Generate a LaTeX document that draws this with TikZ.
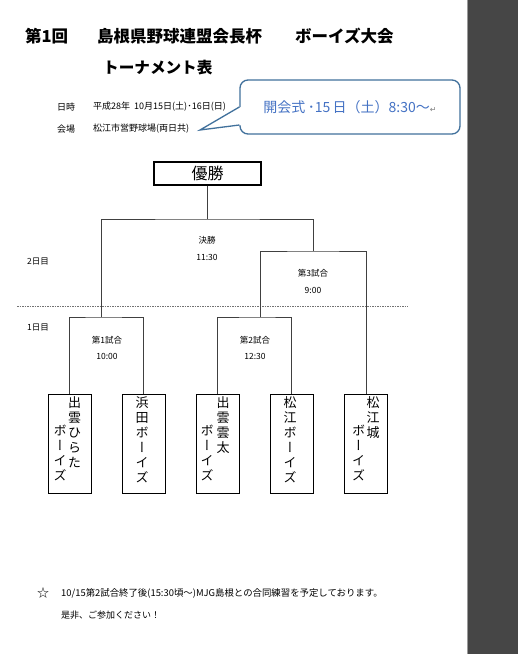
\documentclass[tikz,border=0pt]{standalone}
\usepackage{fontspec}
\setmainfont{Noto Sans CJK JP}
\newfontfamily\vjp[RawFeature=+vert]{Noto Sans CJK JP}
\newfontfamily\symfont{DejaVu Sans}
\definecolor{stripgray}{HTML}{464646}
\definecolor{stripedge}{HTML}{9A9A9A}
\definecolor{cbline}{HTML}{41719C}
\definecolor{cbtext}{HTML}{4472C4}
\begin{document}
\begin{tikzpicture}[x=1pt,y=-1pt,
  titletext/.style={inner sep=0pt,anchor=west,font=\bfseries\fontsize{16.5}{18}\selectfont},
  infotext/.style={inner sep=0pt,anchor=west,font=\fontsize{9}{10}\selectfont},
  small/.style={inner sep=0pt,font=\fontsize{8.5}{10}\selectfont},
  teambox/.style={draw,line width=0.9pt,minimum width=43pt,minimum height=99pt,inner sep=0pt},
  vcol/.style={inner sep=0pt,anchor=north,align=center,font=\vjp\fontsize{13}{15}\selectfont},
  bracket/.style={draw=black!75,line width=0.9pt},
  callout/.style={draw=cbline,line width=1.3pt}]
\useasboundingbox (0,0) rectangle (518,654);
\fill[white] (0,0) rectangle (518,654);
\fill[stripgray] (467,0) rectangle (518,654);
\draw[stripedge,line width=1pt] (467.5,0) -- (467.5,654);

% title
\node[titletext] (ta) at (25,36) {第1回};
\node[titletext] (tb) at (97,36) {島根県野球連盟会長杯};
\node[titletext] (tc) at (295,36) {ボーイズ大会};
\node[titletext,font=\bfseries\fontsize{15.6}{18}\selectfont] (td) at (103,68) {トーナメント表};

% info
\node[infotext] (ia) at (57,107) {日時};
\node[infotext] (ib) at (93,107) {平成28年\ \ 10月15日(土)･16日(日)};
\node[infotext] (ic) at (57,129) {会場};
\node[infotext] (id) at (93,129) {松江市営野球場(両日共)};

% callout
\node[callout,fill=white,rounded corners=8pt,minimum width=220pt,minimum height=54pt,inner sep=0pt,
  text=cbtext,font=\fontsize{14}{16}\selectfont] (cl) at (350,107)
  {開会式\,･15\,日（土）8:30～{\symfont\fontsize{8}{8}\selectfont\color{gray}↵}};
\coordinate (ctip) at (200,130);
\fill[white] ([xshift=1.5pt]cl.west) -- (ctip) -- ([xshift=1.5pt,yshift=-18pt]cl.west) -- cycle;
\draw[callout,line join=miter] (cl.west) -- (ctip) -- ([yshift=-18pt]cl.west);

% champion
\node[draw,line width=1.3pt,minimum width=107pt,minimum height=23pt,inner sep=0pt,
  font=\fontsize{16}{18}\selectfont] (champ) at (207.5,173.5) {優勝};

% day labels and separator
\node[small,anchor=west] (day2) at (27,262) {2日目};
\node[small,anchor=west] (day1) at (27,328) {1日目};
\coordinate (sepL) at (17,306);
\coordinate (sepR) at (408,306);
\draw[black!55,line width=0.8pt,dash pattern=on 1.5pt off 1pt] (sepL) -- (sepR);

% teams
\node[teambox] (team1) at (69.5,443.5) {};
\node[teambox] (team2) at (143.5,443.5) {};
\node[teambox] (team3) at (217.5,443.5) {};
\node[teambox] (team4) at (291.5,443.5) {};
\node[teambox] (team5) at (366,443.5) {};

\node[vcol] (n1a) at (74.5,396) {出\\雲\\ひ\\ら\\た};
\node[vcol] (n1b) at (60,425) {ボ\\ー\\イ\\ズ};
\node[vcol] (n2) at (142,396) {浜\\田\\ボ\\ー\\イ\\ズ};
\node[vcol] (n3a) at (223,396) {出\\雲\\雲\\太};
\node[vcol] (n3b) at (207,425) {ボ\\ー\\イ\\ズ};
\node[vcol] (n4) at (290,396) {松\\江\\ボ\\ー\\イ\\ズ};
\node[vcol] (n5a) at (373,396) {松\\江\\城};
\node[vcol] (n5b) at (358.5,425) {ボ\\ー\\イ\\ズ};

% bracket junctions
\coordinate (m1) at (101,317);
\coordinate (m2) at (260,317);
\coordinate (s3) at (313,251);
\coordinate (fin) at (207.5,219);

\draw[bracket] (team1.north) |- (m1) -| (team2.north);
\draw[bracket] (team3.north) |- (m2) -| (team4.north);
\draw[bracket] (m2) |- (s3) -| (team5.north);
\draw[bracket] (m1) |- (fin) -| (s3);
\draw[bracket] (champ.south) -- (fin);

% match labels
\node[small] (fa) at (207,240) {決勝};
\node[small] (fb) at (207,257.5) {11:30};
\node[small] (ga) at (313,273.5) {第3試合};
\node[small] (gb) at (313,290) {9:00};
\node[small] (ha) at (107,340) {第1試合};
\node[small] (hb) at (107,356) {10:00};
\node[small] (ka) at (255,340) {第2試合};
\node[small] (kb) at (255,356) {12:30};

% footer
\node[inner sep=0pt,font=\fontsize{12}{14}\selectfont] (star) at (43,593) {☆};
\node[inner sep=0pt,anchor=west,font=\fontsize{9.4}{11}\selectfont] (fn1) at (61,593)
  {10/15第2試合終了後(15:30頃～)MJG島根との合同練習を予定しております。};
\node[inner sep=0pt,anchor=west,font=\fontsize{9}{11}\selectfont] (fn2) at (61,615)
  {是非、ご参加ください！};
\end{tikzpicture}
\end{document}
